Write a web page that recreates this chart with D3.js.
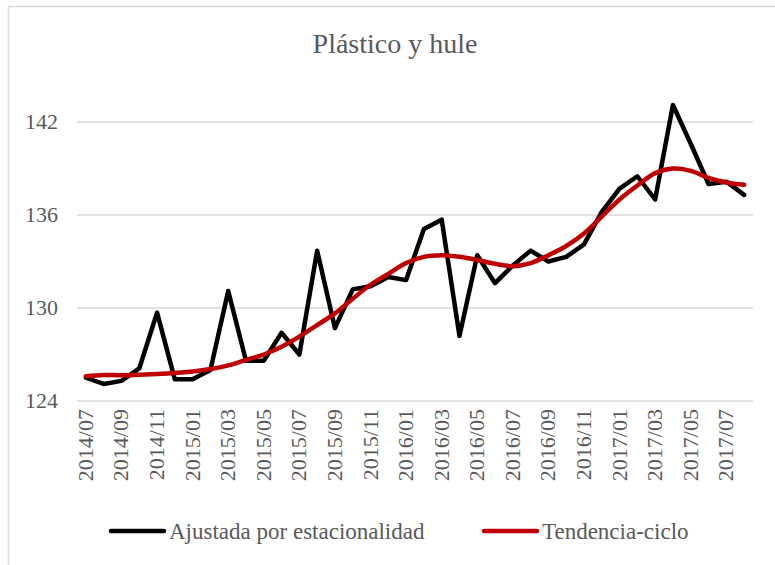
<!DOCTYPE html>
<html>
<head>
<meta charset="utf-8">
<title>Plástico y hule</title>
<style>
  body { margin: 0; background: #fff; }
  svg text { font-family: "Liberation Serif", serif; fill: #595959; }
</style>
<script src="https://d3js.org/d3.v7.min.js"></script>
</head>
<body>
<script>
// months 2014/07 .. 2017/08
var months = [];
for (var i = 0; i < 38; i++) {
  var m = 6 + i;
  var yr = 2014 + Math.floor(m / 12);
  var mo = (m % 12) + 1;
  months.push(yr + "/" + (mo < 10 ? "0" + mo : mo));
}

var ajustada = [125.5, 125.1, 125.3, 126.1, 129.7, 125.4, 125.4, 126.0, 131.1, 126.6,
  126.6, 128.4, 127.0, 133.7, 128.7, 131.2, 131.4, 132.0, 131.8, 135.1,
  135.7, 128.2, 133.4, 131.6, 132.75, 133.7, 133.0, 133.3, 134.1, 136.2,
  137.7, 138.5, 137.0, 143.1, 140.6, 138.0, 138.15, 137.3];

var tendencia = [125.6, 125.68, 125.66, 125.7, 125.74, 125.8, 125.9, 126.06, 126.3, 126.65,
  127.0, 127.5, 128.15, 128.9, 129.65, 130.6, 131.5, 132.2, 132.9, 133.3,
  133.4, 133.3, 133.1, 132.85, 132.7, 132.9, 133.4, 134.0, 134.8, 135.9,
  137.0, 137.9, 138.7, 139.0, 138.85, 138.4, 138.1, 137.95];

var yTicks = [124, 130, 136, 142];

var width = 775, height = 565;
var plotLeft = 77, plotRight = 753, plotTop = 122, plotBottom = 401;

var svg = d3.select("body").append("svg")
  .attr("width", width)
  .attr("height", height);

// chart border
svg.append("rect")
  .attr("x", 8.5).attr("y", 6.5)
  .attr("width", 780).attr("height", 580)
  .attr("fill", "none")
  .attr("stroke", "#d9d9d9")
  .attr("stroke-width", 1.5);

var x = d3.scaleBand().domain(months).range([plotLeft, plotRight]);
var y = d3.scaleLinear().domain([124, 142]).range([plotBottom, plotTop]);

// gridlines
svg.append("g").selectAll("line")
  .data(yTicks).enter().append("line")
  .attr("x1", plotLeft).attr("x2", plotRight)
  .attr("y1", function(d) { return y(d); })
  .attr("y2", function(d) { return y(d); })
  .attr("stroke", "#d9d9d9")
  .attr("stroke-width", 1.5);

// y labels
svg.append("g").selectAll("text")
  .data(yTicks).enter().append("text")
  .attr("x", 58)
  .attr("y", function(d) { return y(d) + 7; })
  .attr("text-anchor", "end")
  .style("font-size", "22px")
  .text(function(d) { return d; });

// x labels every 2 months
svg.append("g").selectAll("text")
  .data(months.filter(function(d, i) { return i % 2 === 0; }))
  .enter().append("text")
  .attr("transform", function(d) {
    return "translate(" + (x(d) + x.bandwidth() / 2 + 7) + ",409) rotate(-90)";
  })
  .attr("text-anchor", "end")
  .style("font-size", "22px")
  .text(function(d) { return d; });

var cx = function(d, i) { return x(months[i]) + x.bandwidth() / 2; };

var lineStraight = d3.line().x(cx).y(function(d) { return y(d); });
var lineSmooth = d3.line().x(cx).y(function(d) { return y(d); }).curve(d3.curveCatmullRom.alpha(0.5));

svg.append("path")
  .attr("d", lineStraight(ajustada))
  .attr("fill", "none")
  .attr("stroke", "#000")
  .attr("stroke-width", 4.5)
  .attr("stroke-linejoin", "round")
  .attr("stroke-linecap", "round");

svg.append("path")
  .attr("d", lineSmooth(tendencia))
  .attr("fill", "none")
  .attr("stroke", "#c00000")
  .attr("stroke-width", 4.5)
  .attr("stroke-linecap", "round");

// title
svg.append("text")
  .attr("x", 395).attr("y", 53)
  .attr("text-anchor", "middle")
  .style("font-size", "28px")
  .text("Plástico y hule");

// legend
var legend = [
  { name: "Ajustada por estacionalidad", color: "#000", x: 111 },
  { name: "Tendencia-ciclo", color: "#c00000", x: 484 }
];
var lg = svg.append("g").selectAll("g").data(legend).enter().append("g");
lg.append("line")
  .attr("x1", function(d) { return d.x; })
  .attr("x2", function(d) { return d.x + 53; })
  .attr("y1", 531).attr("y2", 531)
  .attr("stroke", function(d) { return d.color; })
  .attr("stroke-width", 4.5)
  .attr("stroke-linecap", "round");
lg.append("text")
  .attr("x", function(d) { return d.x + 58; })
  .attr("y", 539)
  .style("font-size", "23px")
  .text(function(d) { return d.name; });
</script>
</body>
</html>
